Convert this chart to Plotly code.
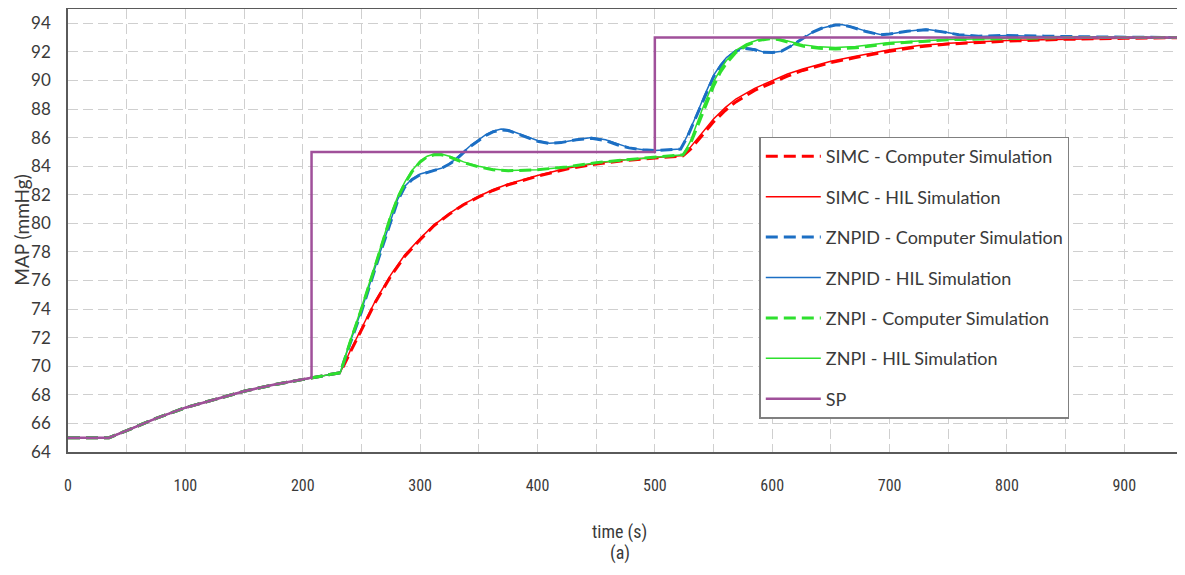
import plotly.graph_objects as go

# ---------------- data ----------------
# common open-loop segment (all responses coincide until ~232 s)
t_init = [0, 35, 50, 75, 100, 125, 150, 175, 200, 208, 232]
v_init = [65.0, 65.0, 65.5, 66.35, 67.1, 67.7, 68.25, 68.7, 69.05, 69.2, 69.55]

# SIMC
t_simc = [240, 250, 262, 275, 287, 300, 312, 325, 337, 350, 362, 375, 387, 400, 425, 450,
          475, 500, 524, 530, 540, 550, 560, 569, 585, 600, 613, 626, 650, 671, 700, 725,
          750, 800, 850, 900, 950]
v_simc_hil = [71.0, 72.6, 74.6, 76.4, 77.8, 78.95, 79.9, 80.7, 81.35, 81.9, 82.35, 82.75,
              83.05, 83.35, 83.85, 84.2, 84.45, 84.6, 84.75, 85.3, 86.3, 87.3, 88.1, 88.7,
              89.45, 90.0, 90.45, 90.8, 91.35, 91.7, 92.15, 92.45, 92.6, 92.8, 92.9, 92.95, 93.0]
v_simc_comp = [70.9, 72.5, 74.5, 76.3, 77.7, 78.85, 79.85, 80.65, 81.3, 81.85, 82.3, 82.7,
               83.0, 83.3, 83.8, 84.15, 84.4, 84.58, 84.72, 85.15, 86.1, 87.1, 87.9, 88.5,
               89.3, 89.85, 90.3, 90.7, 91.25, 91.6, 92.05, 92.35, 92.55, 92.75, 92.88, 92.95, 93.0]

# ZNPID
t_znpid = [240, 250, 262, 275, 281, 287, 293, 300, 312, 318, 325, 331, 337, 343, 350, 356,
           362, 369, 375, 387, 400, 410, 420, 433, 446, 458, 468, 478, 490, 500, 522, 528,
           535, 542, 550, 556, 561, 569, 576, 585, 592, 600, 608, 617, 623, 629, 635, 642,
           654, 660, 667, 680, 692, 700, 715, 731, 745, 759, 776, 800, 832, 870, 950]
v_znpid_hil = [71.6, 73.9, 77.0, 80.3, 81.7, 82.6, 83.1, 83.45, 83.7, 83.85, 84.15, 84.55,
               85.0, 85.45, 85.85, 86.2, 86.45, 86.6, 86.55, 86.2, 85.8, 85.6, 85.65, 85.85,
               86.0, 85.85, 85.55, 85.3, 85.15, 85.1, 85.2, 86.2, 87.5, 88.9, 90.35, 91.1,
               91.6, 92.1, 92.3, 92.2, 92.0, 91.95, 92.05, 92.45, 92.8, 93.1, 93.4, 93.65,
               93.9, 93.9, 93.78, 93.45, 93.22, 93.25, 93.45, 93.58, 93.42, 93.2, 93.08,
               93.15, 93.08, 93.05, 93.0]
v_znpid_comp = [71.5, 73.8, 76.9, 80.2, 81.6, 82.55, 83.05, 83.4, 83.68, 83.85, 84.15, 84.5,
                84.95, 85.4, 85.8, 86.15, 86.4, 86.55, 86.5, 86.15, 85.75, 85.6, 85.65, 85.85,
                85.95, 85.8, 85.5, 85.28, 85.15, 85.1, 85.2, 86.1, 87.4, 88.8, 90.25, 91.0,
                91.5, 92.05, 92.25, 92.15, 91.98, 91.95, 92.05, 92.45, 92.8, 93.1, 93.4, 93.65,
                93.88, 93.88, 93.75, 93.42, 93.2, 93.25, 93.45, 93.55, 93.4, 93.2, 93.1,
                93.15, 93.1, 93.05, 93.0]

# ZNPI
t_znpi = [240, 250, 262, 275, 281, 287, 293, 300, 306, 312, 318, 325, 331, 337, 350, 362,
          375, 400, 425, 450, 475, 500, 524, 530, 540, 550, 556, 561, 569, 578, 588, 598,
          606, 614, 626, 640, 654, 671, 700, 750, 800, 850, 950]
v_znpi_hil = [71.7, 74.1, 77.2, 80.6, 81.9, 82.9, 83.7, 84.35, 84.7, 84.85, 84.85, 84.7,
              84.5, 84.3, 84.0, 83.8, 83.7, 83.75, 83.95, 84.25, 84.45, 84.65, 84.8, 85.7,
              87.9, 89.9, 90.8, 91.4, 92.1, 92.55, 92.85, 92.95, 92.9, 92.75, 92.5, 92.35,
              92.3, 92.38, 92.65, 92.87, 92.95, 93.0, 93.0]
v_znpi_comp = [71.6, 74.0, 77.1, 80.5, 81.8, 82.8, 83.6, 84.3, 84.65, 84.8, 84.8, 84.65,
               84.45, 84.25, 83.95, 83.75, 83.68, 83.75, 83.95, 84.25, 84.45, 84.65, 84.8,
               85.5, 87.6, 89.6, 90.6, 91.2, 91.95, 92.45, 92.8, 92.92, 92.85, 92.65, 92.4,
               92.25, 92.2, 92.28, 92.58, 92.85, 92.95, 93.0, 93.0]

# set-point
sp_t = [0, 35, 50, 75, 100, 125, 150, 175, 200, 207.5, 207.5, 500, 500, 950]
sp_v = [65.0, 65.0, 65.5, 66.35, 67.1, 67.7, 68.25, 68.7, 69.05, 69.2, 85.0, 85.0, 93.0, 93.0]

x_ticks = list(range(0, 901, 100))
y_ticks = list(range(64, 95, 2))

# ---------------- styling ----------------
RED = "#FF0000"
BLUE = "#1C6FC4"
GREEN = "#2EE02E"
PURPLE = "#A0509A"
TXT = "#3A3A3A"
GRID = "#CFCFCF"
FONT = "Lato, 'Open Sans', sans-serif"
NARROW = "'Liberation Sans Narrow', 'Roboto Condensed', 'Open Sans', sans-serif"

series = [
    ("SIMC - Computer Simulation", t_simc, v_simc_comp, RED, 3, "12px,6px"),
    ("SIMC - HIL Simulation", t_simc, v_simc_hil, RED, 1.5, "solid"),
    ("ZNPID - Computer Simulation", t_znpid, v_znpid_comp, BLUE, 3, "12px,6px"),
    ("ZNPID - HIL Simulation", t_znpid, v_znpid_hil, BLUE, 1.5, "solid"),
    ("ZNPI - Computer Simulation", t_znpi, v_znpi_comp, GREEN, 3, "12px,6px"),
    ("ZNPI - HIL Simulation", t_znpi, v_znpi_hil, GREEN, 1.5, "solid"),
]

fig = go.Figure()
for i, (name, tt, vv, col, w, dash) in enumerate(series):
    fig.add_trace(go.Scatter(
        x=t_init + tt, y=v_init + vv, mode="lines", name=name,
        line=dict(color=col, width=w, dash=dash), legendgroup=f"g{i}"))
fig.add_trace(go.Scatter(x=sp_t, y=sp_v, mode="lines", name="SP",
                         line=dict(color=PURPLE, width=2.5), legendgroup="g6"))

# the page body adds an 8px margin, so the figure is 8px smaller than the window
fig.update_layout(
    width=1177, height=567,
    margin=dict(l=60, r=2, t=1, b=123, autoexpand=False),
    paper_bgcolor="white", plot_bgcolor="white",
    font=dict(family=FONT, color=TXT, size=15),
    showlegend=True,
    legend=dict(
        x=0.62, y=0.712, xanchor="left", yanchor="top",
        bgcolor="white", bordercolor="#808080", borderwidth=1.5,
        font=dict(family=FONT, size=18, color=TXT),
        tracegroupgap=14, itemwidth=55,
    ),
    xaxis=dict(
        range=[0, 950], tickmode="array", tickvals=x_ticks, automargin=False,
        showgrid=True, gridcolor=GRID, griddash="10px,5px", gridwidth=1,
        minor=dict(tickmode="linear", tick0=0, dtick=50, showgrid=True,
                   gridcolor=GRID, griddash="10px,5px", gridwidth=1),
        showline=True, linecolor="#5A5A5A", linewidth=1.5, mirror=True,
        zeroline=False, ticks="", ticklabelstandoff=18,
        tickfont=dict(family=NARROW, size=16, color=TXT),
    ),
    yaxis=dict(
        range=[64, 95], tickmode="array", tickvals=y_ticks, automargin=False,
        showgrid=True, gridcolor=GRID, griddash="10px,5px", gridwidth=1,
        showline=True, linecolor="#5A5A5A", linewidth=1.5, mirror=True,
        zeroline=False, ticks="", ticklabelstandoff=12,
        tickfont=dict(family=FONT, size=17, color=TXT),
    ),
    annotations=[
        dict(text="time (s)", x=0.495, y=-0.18, xref="paper", yref="paper",
             xanchor="center", yanchor="middle", showarrow=False,
             font=dict(family=NARROW, size=18, color=TXT)),
        dict(text="(a)", x=0.495, y=-0.228, xref="paper", yref="paper",
             xanchor="center", yanchor="middle", showarrow=False,
             font=dict(family=NARROW, size=18, color=TXT)),
        dict(text="MAP (mmHg)", x=-0.042, y=0.5, xref="paper", yref="paper",
             xanchor="center", yanchor="middle", showarrow=False, textangle=-90,
             font=dict(family=FONT, size=19, color=TXT)),
    ],
)

fig.write_html("out.html")
